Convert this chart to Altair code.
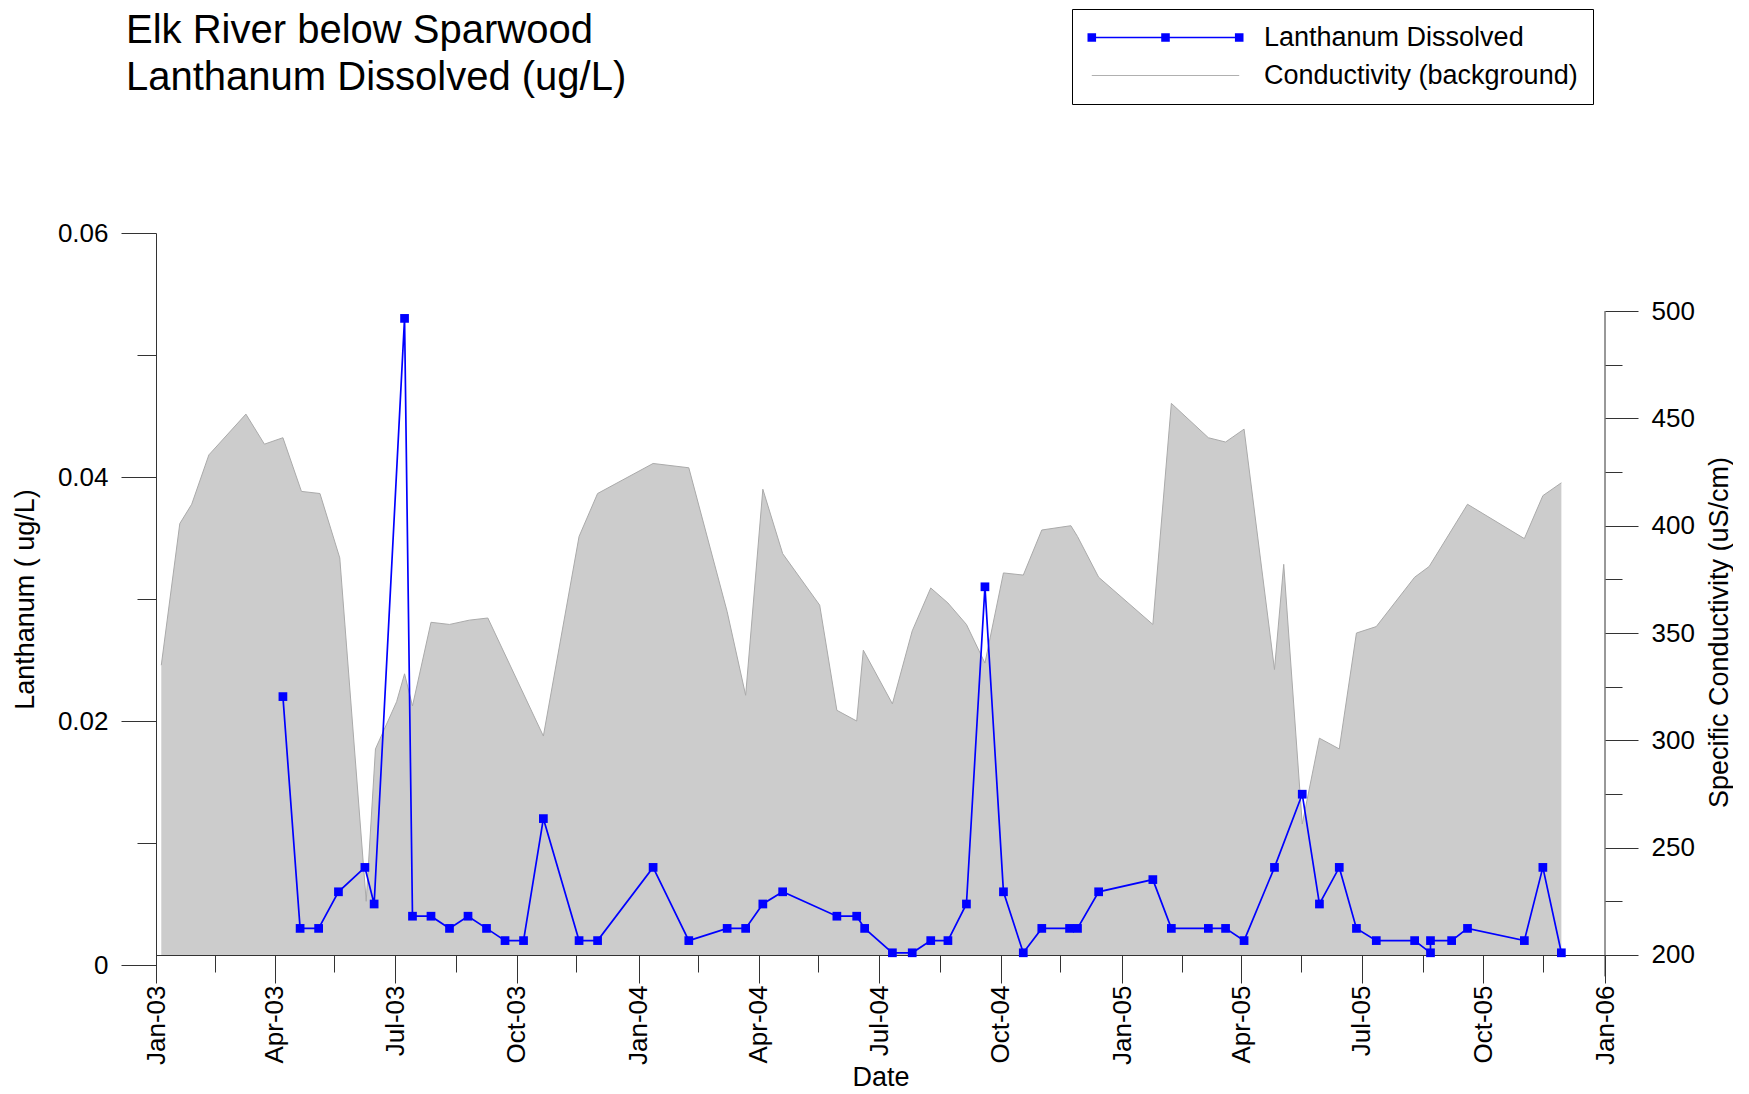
import altair as alt
import pandas as pd

# ---------------- data ----------------
lan_dates = ["2003-04-07", "2003-04-20", "2003-05-04", "2003-05-19", "2003-06-08", "2003-06-15",
             "2003-07-08", "2003-07-14", "2003-07-28", "2003-08-11", "2003-08-25", "2003-09-08",
             "2003-09-22", "2003-10-06", "2003-10-21", "2003-11-17", "2003-12-01", "2004-01-12",
             "2004-02-08", "2004-03-08", "2004-03-22", "2004-04-04", "2004-04-19", "2004-05-30",
             "2004-06-14", "2004-06-20", "2004-07-11", "2004-07-26", "2004-08-09", "2004-08-22",
             "2004-09-05", "2004-09-19", "2004-10-03", "2004-10-18", "2004-11-01", "2004-11-22",
             "2004-11-28", "2004-12-14", "2005-01-24", "2005-02-07", "2005-03-07", "2005-03-20",
             "2005-04-03", "2005-04-26", "2005-05-17", "2005-05-30", "2005-06-14", "2005-06-27",
             "2005-07-12", "2005-08-10", "2005-08-22", "2005-08-22", "2005-09-07", "2005-09-19",
             "2005-11-01", "2005-11-15", "2005-11-29"]
lan_values = [0.022, 0.003, 0.003, 0.006, 0.008, 0.005,
              0.053, 0.004, 0.004, 0.003, 0.004, 0.003,
              0.002, 0.002, 0.012, 0.002, 0.002, 0.008,
              0.002, 0.003, 0.003, 0.005, 0.006, 0.004,
              0.004, 0.003, 0.001, 0.001, 0.002, 0.002,
              0.005, 0.031, 0.006, 0.001, 0.003, 0.003,
              0.003, 0.006, 0.007, 0.003, 0.003, 0.003,
              0.002, 0.008, 0.014, 0.005, 0.008, 0.003,
              0.002, 0.002, 0.001, 0.002, 0.002, 0.003,
              0.002, 0.008, 0.001]

cond_dates = ["2003-01-05", "2003-01-19", "2003-01-28", "2003-02-10", "2003-03-10", "2003-03-24",
              "2003-04-07", "2003-04-21", "2003-05-05", "2003-05-20", "2003-06-09", "2003-06-16",
              "2003-07-02", "2003-07-08", "2003-07-14", "2003-07-28", "2003-08-11", "2003-08-26",
              "2003-09-09", "2003-10-21", "2003-11-17", "2003-12-01",
              "2004-01-12", "2004-02-08", "2004-03-08", "2004-03-22", "2004-04-04", "2004-04-19",
              "2004-05-17", "2004-05-30", "2004-06-14", "2004-06-19", "2004-07-11", "2004-07-26",
              "2004-08-09", "2004-08-22", "2004-09-05", "2004-09-19", "2004-10-03", "2004-10-18",
              "2004-11-01", "2004-11-23", "2004-11-28", "2004-12-14",
              "2005-01-24", "2005-02-07", "2005-03-07", "2005-03-20", "2005-04-03", "2005-04-26",
              "2005-05-03", "2005-05-17", "2005-05-30", "2005-06-14", "2005-06-27", "2005-07-12",
              "2005-08-10", "2005-08-21", "2005-09-19", "2005-11-01", "2005-11-15", "2005-11-29"]
cond_values = [335, 401, 410, 433, 452, 438,
               441, 416, 415, 385, 225, 296,
               318, 331, 316, 355, 354, 356,
               357, 302, 395, 415,
               429, 427, 360, 321, 417, 387,
               363, 314, 309, 342, 317, 351,
               371, 364, 354, 336, 378, 377,
               398, 400, 395, 376,
               354, 457, 441, 439, 445, 333,
               382, 261, 301, 296, 350, 353,
               376, 381, 410, 394, 414, 420]

x_tick_dates = ["2003-01-01", "2003-02-15", "2003-04-01", "2003-05-16", "2003-07-01", "2003-08-16",
                "2003-10-01", "2003-11-15", "2004-01-01", "2004-02-15", "2004-04-01", "2004-05-16",
                "2004-07-01", "2004-08-16", "2004-10-01", "2004-11-15", "2005-01-01", "2005-02-15",
                "2005-04-01", "2005-05-16", "2005-07-01", "2005-08-16", "2005-10-01", "2005-11-15",
                "2006-01-01"]
left_ticks = [0, 0.01, 0.02, 0.03, 0.04, 0.05, 0.06]
right_ticks = [200, 225, 250, 275, 300, 325, 350, 375, 400, 425, 450, 475, 500]

series_names = ["Lanthanum Dissolved", "Conductivity (background)"]
title_lines = ["Elk River below Sparwood", "Lanthanum Dissolved (ug/L)"]

# ---------------- styling ----------------
W, H = 1449, 732
BLUE = "#0000ff"
SANS = "Liberation Sans"
AXC = "#333333"

lan_df = pd.DataFrame({"date": lan_dates, "value": lan_values,
                       "idx": list(range(len(lan_dates))),
                       "series": series_names[0]})
cond_df = pd.DataFrame({"date": cond_dates, "cond": cond_values})


def dt(s):
    y, m, d = map(int, s.split("-"))
    return alt.DateTime(year=y, month=m, date=d, utc=True)


x_enc = alt.X(
    "date:T",
    scale=alt.Scale(type="utc", domain=[dt("2003-01-01"), dt("2006-01-01")]),
    axis=alt.Axis(
        values=[dt(s) for s in x_tick_dates],
        labelExpr="utcdate(datum.value) == 1 ? utcFormat(datum.value, '%b-%y') : ''",
        tickSize={"condition": {"test": "utcdate(datum.value) == 1", "value": 28}, "value": 17},
        labelAngle=270, labelAlign="right", labelBaseline="middle",
        labelPadding=2, labelOverlap=False, labelFlush=False, labelBound=False,
        offset=-10, title="Date", titlePadding=0, grid=False,
    ),
)

y_left = alt.Y(
    "value:Q",
    scale=alt.Scale(domain=[0, 0.06], nice=False, zero=True),
    axis=alt.Axis(
        orient="left", values=left_ticks,
        tickSize={"condition": {"test": "round(datum.value * 100) % 2 == 0", "value": 35}, "value": 19},
        labelExpr="round(datum.value * 100) % 2 == 0 ? (datum.value == 0 ? '0' : format(datum.value, '.2f')) : ''",
        labelPadding=13, title="Lanthanum ( ug/L)", titlePadding=18, grid=False,
    ),
)

y_right = alt.Y(
    "cond:Q",
    scale=alt.Scale(domain=[195.32, 536.39], nice=False, zero=False),
    axis=alt.Axis(
        orient="right", values=right_ticks,
        tickSize={"condition": {"test": "datum.value % 50 == 0", "value": 33}, "value": 17},
        labelExpr="datum.value % 50 == 0 ? format(datum.value, 'd') : ''",
        labelPadding=13, domain=False,
        title="Specific Conductivity (uS/cm)", titleAngle=270, titleBaseline="top",
        titleY=399, titlePadding=12, grid=False,
    ),
)

# legend symbols (custom paths): line with three squares, and plain grey line
path_lan = ("M-1,-0.33L-0.34,-0.33L-0.34,0.33L-1,0.33Z"
            "M4.67,-0.33L5.33,-0.33L5.33,0.33L4.67,0.33Z"
            "M10.34,-0.33L11,-0.33L11,0.33L10.34,0.33Z"
            "M-0.67,-0.06L10.67,-0.06L10.67,0.06L-0.67,0.06Z")
path_cond = "M-0.67,-0.04L10.67,-0.04L10.67,0.04L-0.67,0.04Z"

legend = alt.Legend(
    title=None, orient="none", legendX=916, legendY=-224, direction="vertical",
    strokeColor="black", fillColor="white", padding=15,
    labelFont=SANS, labelFontSize=27, labelColor="black", labelOffset=150, labelLimit=0,
    rowPadding=10, symbolSize=676, symbolStrokeWidth=0, symbolOpacity=1,
)

area = alt.Chart(cond_df).mark_area(color="#cccccc", opacity=1).encode(
    x=x_enc, y=y_right, y2=alt.datum(200))
area_top = alt.Chart(cond_df).mark_line(color="#aaaaaa", strokeWidth=1).encode(
    x=x_enc, y=y_right)
right_line = alt.Chart(pd.DataFrame({"k": [0]})).mark_rule(color=AXC, strokeWidth=1).encode(
    x=alt.value(W), y=alt.datum(500), y2=alt.datum(190))

lan_line = alt.Chart(lan_df).mark_line(color=BLUE, strokeWidth=1.7).encode(
    x=x_enc, y=y_left, order="idx:Q")
lan_pts = alt.Chart(lan_df).mark_point(shape="square", filled=True, size=76, color=BLUE, opacity=1).encode(
    x=x_enc, y=y_left)
legend_layer = alt.Chart(lan_df).transform_filter("false").mark_point(filled=True, opacity=1).encode(
    x=x_enc, y=y_left,
    color=alt.Color("series:N", scale=alt.Scale(domain=series_names, range=[BLUE, "#b0b0b0"]), legend=legend),
    shape=alt.Shape("series:N", scale=alt.Scale(domain=series_names, range=[path_lan, path_cond]), legend=legend),
)

cond_layer = alt.layer(area, area_top, right_line)
lan_layer = alt.layer(lan_line, lan_pts, legend_layer)

chart = (
    alt.layer(cond_layer, lan_layer)
    .resolve_scale(y="independent")
    .properties(
        width=W, height=H,
        padding={"left": 3, "top": 0, "right": 0, "bottom": 0},
        title=alt.Title(text=title_lines, anchor="start", frame="group", font=SANS,
                        fontSize=40, fontWeight="normal", color="black", lineHeight=47,
                        offset=0, dx=-30, dy=89),
    )
    .configure_axis(labelFont=SANS, labelFontSize=26, labelColor="black",
                    titleFont=SANS, titleFontSize=27, titleFontWeight="normal", titleColor="black",
                    domainColor=AXC, tickColor=AXC, domainWidth=1, tickWidth=1)
    .configure_view(strokeWidth=0)
)

chart.save("out.html", embed_options={"renderer": "svg", "actions": False})
